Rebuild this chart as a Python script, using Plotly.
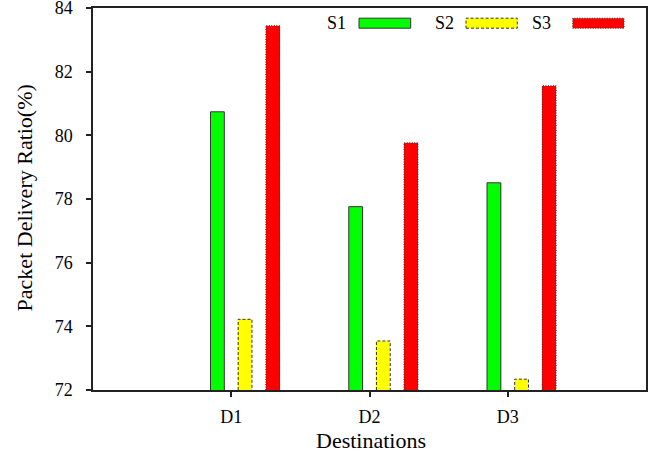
import plotly.graph_objects as go

categories = ["D1", "D2", "D3"]
series_names = ["S1", "S2", "S3"]
s1 = [80.74, 77.76, 78.51]
s2 = [74.22, 73.54, 72.34]
s3 = [83.45, 79.77, 81.56]
y_ticks = [72, 74, 76, 78, 80, 82, 84]

fills = ["#00FF00", "#FFFF00", "#FF0000"]
dashes = ["solid", "3px,2px", "1px,1.5px"]
offsets = [-0.15, 0.05, 0.25]
bar_w = 0.1
base = 72
pos = [1, 2, 3]

fig = go.Figure()
for vals, fill, dash, off, name in zip([s1, s2, s3], fills, dashes, offsets, series_names):
    fig.add_trace(go.Bar(
        x=pos, y=[v - base for v in vals], base=base, width=bar_w, offset=off,
        marker=dict(color=fill, line=dict(width=0)), name=name, showlegend=False,
    ))
    ox, oy = [], []
    for p, v in zip(pos, vals):
        x0 = p + off
        x1 = x0 + bar_w
        ox += [x0, x0, x1, x1, None]
        oy += [base, v, v, base, None]
    fig.add_trace(go.Scatter(
        x=ox, y=oy, mode="lines", line=dict(color="#333333", width=1, dash=dash),
        showlegend=False, hoverinfo="skip",
    ))

# custom legend (wide swatches)
x0p, x1p = 93, 646
y0p, y1p = 7.5, 389.7
def px(x):
    return (x - x0p) / (x1p - x0p)
def py(y):
    return 1 - (y - y0p) / (y1p - y0p)

leg = [(348, 359, 410.7), (456, 466, 517.3), (552.5, 572.7, 624)]
for (tx, sx0, sx1), fill, dash, name in zip(leg, fills, dashes, series_names):
    fig.add_shape(type="rect", xref="paper", yref="paper",
                  x0=px(sx0), x1=px(sx1), y0=py(27.7), y1=py(17.7),
                  fillcolor=fill, line=dict(color="#333333", width=1, dash=dash))
    fig.add_annotation(xref="paper", yref="paper", x=px(tx), y=py(22.5),
                       text=name, showarrow=False, xanchor="right", yanchor="middle",
                       font=dict(size=18, color="black"))

# axis titles
fig.add_annotation(xref="paper", yref="paper", x=px(370.5), y=py(440),
                   text="Destinations", showarrow=False, xanchor="center", yanchor="middle",
                   font=dict(size=22, color="black"))
fig.add_annotation(xref="paper", yref="paper", x=px(24), y=py(198),
                   text="Packet Delivery Ratio(%)", showarrow=False, textangle=-90,
                   xanchor="center", yanchor="middle",
                   font=dict(size=22, color="black"))

axis_common = dict(showline=True, linecolor="#222222", linewidth=1.5, mirror=True,
                   ticks="outside", ticklen=5, tickwidth=1.5, tickcolor="#222222",
                   showgrid=False, zeroline=False, ticklabeloverflow="allow",
                   automargin=False,
                   tickfont=dict(size=18, color="black"))

fig.update_layout(
    width=648, height=456,
    margin=dict(l=93, r=2, t=7.5, b=66.3),
    paper_bgcolor="white", plot_bgcolor="white",
    font=dict(family="Liberation Serif, Times New Roman, serif", color="black"),
    bargap=0, barmode="overlay",
    xaxis=dict(range=[0, 4], tickmode="array", tickvals=pos, ticktext=categories,
               ticklabelstandoff=5, **axis_common),
    yaxis=dict(range=[72, 84], tickmode="array", tickvals=y_ticks,
               ticktext=[str(t) for t in y_ticks],
               ticklabelstandoff=10, **axis_common),
)

fig.write_html("out.html")
